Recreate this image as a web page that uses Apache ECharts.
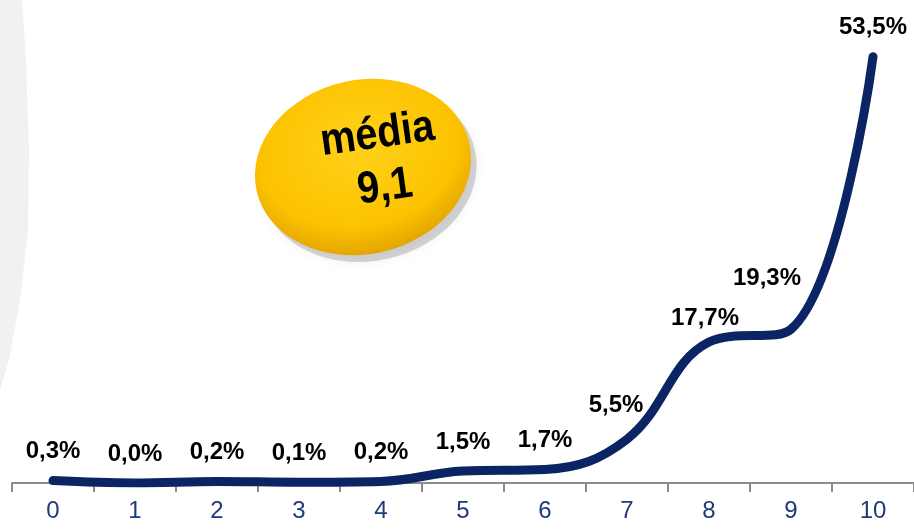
<!DOCTYPE html>
<html>
<head>
<meta charset="utf-8">
<script src="https://cdn.jsdelivr.net/npm/echarts@6/dist/echarts.min.js"></script>
<style>
html,body{margin:0;padding:0;background:#fff;}
#c{width:914px;height:532px;}
</style>
</head>
<body>
<div id="c"></div>
<script>
const categories = ['0','1','2','3','4','5','6','7','8','9','10'];
const values = [0.3, 0.0, 0.2, 0.1, 0.2, 1.5, 1.7, 5.5, 17.7, 19.3, 53.5];
const meanLabel = 'média';
const meanValue = '9,1';

const labelFont = 'Liberation Sans, Arial, sans-serif';
const fmt = v => v.toFixed(1).replace('.', ',') + '%';
const labelShift = {7: [-11, -5], 8: [-4, 5], 9: [-24, -22]};

const chart = echarts.init(document.getElementById('c'), null, {renderer: 'canvas'});
chart.setOption({
  animation: false,
  grid: {left: 12, right: 0, top: 5, bottom: 49},
  xAxis: {
    type: 'category',
    data: categories,
    boundaryGap: true,
    axisLine: {lineStyle: {color: '#8c8c8c', width: 2}},
    axisTick: {show: true, length: 9, lineStyle: {color: '#8c8c8c', width: 2}},
    axisLabel: {color: '#1f3a78', fontSize: 24, fontFamily: labelFont, margin: 16}
  },
  yAxis: {
    type: 'value', min: 0, max: 60,
    show: false, splitLine: {show: false}
  },
  graphic: [
    {
      type: 'polygon', z: -10,
      shape: {points: [[0,0],[22,0],[26,60],[29,150],[28,230],[20,300],[9,360],[0,390]]},
      style: {fill: '#f0f1f3'}
    },
    {
      type: 'group', x: 363, y: 167, rotation: 0.22, z: 10,
      children: [
        {
          type: 'circle', shape: {cx: 0, cy: 0, r: 100}, scaleX: 1.09, scaleY: 0.87, x: 4, y: 8,
          style: {fill: 'rgba(0,0,0,0.16)', shadowBlur: 12, shadowColor: 'rgba(0,0,0,0.35)'}
        },
        {
          type: 'circle', shape: {cx: 0, cy: 0, r: 100}, scaleX: 1.09, scaleY: 0.87,
          style: {
            fill: new echarts.graphic.RadialGradient(0.5, 0.38, 0.62, [
              {offset: 0, color: '#ffd21a'},
              {offset: 0.75, color: '#fcc200'},
              {offset: 1, color: '#e3a500'}
            ])
          }
        },
        {
          type: 'text', x: 21, y: -28, rotation: -0.08, scaleX: 0.88,
          style: {text: meanLabel, font: 'bold 45px ' + labelFont, fill: '#000', align: 'center', verticalAlign: 'middle'}
        },
        {
          type: 'text', x: 17, y: 25, rotation: -0.08, scaleX: 0.88,
          style: {text: meanValue, font: 'bold 45px ' + labelFont, fill: '#000', align: 'center', verticalAlign: 'middle'}
        }
      ]
    }
  ],
  series: [{
    type: 'line',
    data: values,
    smooth: 0.4,
    symbol: 'circle',
    symbolSize: 2,
    showSymbol: true,
    itemStyle: {color: '#0b2463'},
    lineStyle: {color: '#0b2463', width: 9, cap: 'round', join: 'round'},
    label: {
      show: true, position: 'top', distance: 16,
      formatter: p => fmt(p.value),
      color: '#000', fontWeight: 'bold', fontSize: 24, fontFamily: labelFont
    },
    labelLayout: function (params) {
      const s = labelShift[params.dataIndex];
      return s ? {dx: s[0], dy: s[1], hideOverlap: false} : {hideOverlap: false};
    }
  }]
});
</script>
</body>
</html>
